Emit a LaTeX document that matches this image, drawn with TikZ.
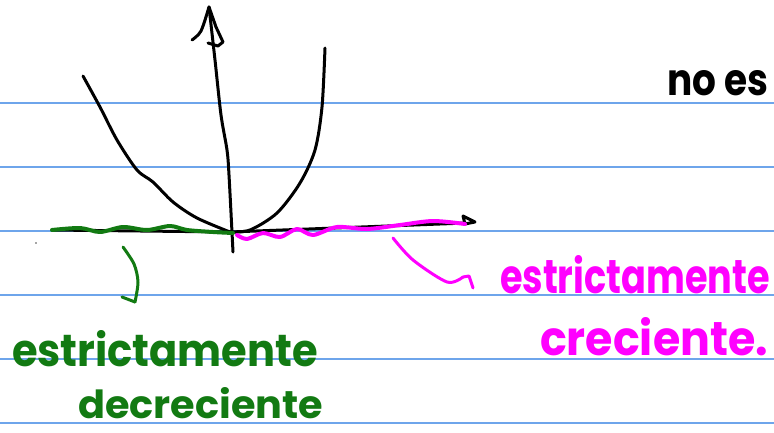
\documentclass[tikz,border=0pt]{standalone}
\usepackage{fontspec}
\setmainfont{Poppins}
\definecolor{rule}{RGB}{110,165,235}
\definecolor{inkgreen}{RGB}{18,122,18}
\definecolor{inkmag}{RGB}{255,0,255}
\begin{document}
\begin{tikzpicture}[x=1pt,y=-1pt,
  ruleline/.style={rule,line width=1.3pt},
  ink/.style={line width=3pt,line cap=round,line join=round},
  blackink/.style={ink,black},
  greenink/.style={ink,inkgreen,line width=4pt},
  magink/.style={ink,inkmag,line width=4pt},
  hand/.style={inner sep=0pt,outer sep=0pt,anchor=base west,font=\bfseries}]
\useasboundingbox (0,0) rectangle (774,432);
\fill[white] (0,0) rectangle (774,432);
% ruled lines
\foreach \yy in {103,167,231,295,359,423}
  \draw[ruleline] (0,\yy) -- (774,\yy);
% y-axis
\coordinate (ybot) at (233,252);
\coordinate (ytop) at (209,7);
\draw[blackink] plot[smooth] coordinates {(ybot) (229,175) (227,150) (221,115) (215,60) (ytop)};
\draw[blackink] plot[smooth] coordinates {(192,40) (201,31) (ytop)};
\draw[blackink] (ytop) -- (216,27) -- (223,42) -- (218,46) -- (208,43);
% x-axis
\coordinate (xl) at (52,230);
\coordinate (xr) at (466,223);
\draw[blackink] (xl) -- (230,232) -- (xr);
\draw[blackink] (463,216) -- (475,222) -- (465,224) -- cycle;
% parabola
\coordinate (o) at (230,232);
\draw[blackink] plot[smooth] coordinates {(83,76) (100,107) (117,140) (137,170) (153,182) (173,202) (197,218) (o)};
\draw[blackink] plot[smooth] coordinates {(o) (250,230) (277,213) (300,183) (315,150) (322,107) (325,48)};
% green wave
\draw[greenink] plot[smooth] coordinates {(52,230) (80,228) (100,232) (123,227) (147,230) (170,226) (187,230) (213,232) (233,233)};
% magenta wave
\draw[magink] plot[smooth] coordinates {(237,235) (247,239) (263,233) (280,237) (297,229) (313,235) (337,227) (367,229) (400,225) (433,221) (465,224)};
% stray dot
\fill[black!70] (36,243) circle (0.8pt);
% green connector
\draw[greenink,line width=3pt] plot[smooth] coordinates {(123,247) (134,264) (138,282) (135,302)};
\draw[greenink,line width=3pt] (135,302) -- (122,297);
% magenta connector
\draw[magink,line width=3pt] plot[smooth] coordinates {(393,238) (413,260) (447,282) (463,277)};
\draw[magink,line width=3pt] (463,277) -- (469,276) -- (473,288);
% texts
\node[hand,text=inkgreen] (gest) at (12,366) {\resizebox{306pt}{36pt}{estrictamente}};
\node[hand,text=inkgreen] (gdec) at (78,418) {\resizebox{245pt}{31pt}{decreciente}};
\node[hand,text=inkmag] (mest) at (500,293) {\resizebox{270pt}{38pt}{estrictamente}};
\node[hand,text=inkmag] (mcre) at (540,355) {\resizebox{228pt}{38pt}{creciente.}};
\node[hand,text=black] (noes) at (667,95) {\resizebox{101pt}{25pt}{no es}};
\end{tikzpicture}
\end{document}
